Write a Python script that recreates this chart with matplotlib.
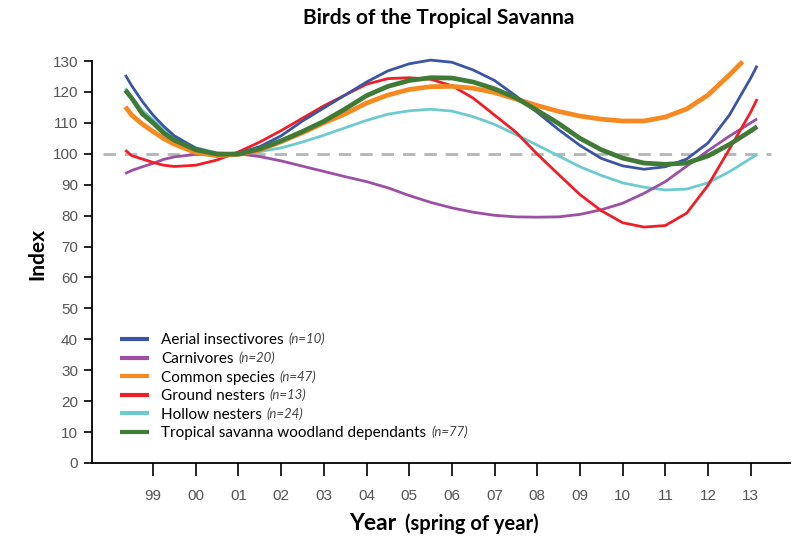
import matplotlib
matplotlib.use("Agg")
import matplotlib.pyplot as plt
from matplotlib import font_manager

# years since 1999 ("99" tick = 0)
t = [-0.65, -0.5, -0.25, 0, 0.25, 0.5, 1, 1.5, 2, 2.5, 3, 3.5, 4, 4.5, 5, 5.5, 6, 6.5,
     7, 7.5, 8, 8.5, 9, 9.5, 10, 10.5, 11, 11.5, 12, 12.5, 13, 13.5, 14, 14.15]
t_orange = t[:32] + [13.81]

aerial = [125.5, 122.0, 116.9, 112.5, 108.9, 105.8, 101.8, 100.0, 100.2, 102.3, 105.8,
          110.6, 114.8, 119.0, 123.2, 126.8, 129.1, 130.3, 129.6, 127.1, 123.7, 118.7,
          113.4, 107.8, 102.7, 98.5, 96.1, 95.0, 95.8, 98.3, 103.5, 112.5, 124.5, 128.5]
carnivores = [93.6, 94.6, 95.8, 96.9, 98.2, 99.0, 99.8, 100.1, 100.0, 99.1, 97.7, 96.0,
              94.3, 92.6, 91.0, 89.0, 86.5, 84.3, 82.5, 81.1, 80.1, 79.6, 79.5, 79.6,
              80.4, 81.9, 84.0, 87.2, 91.0, 96.0, 101.0, 105.7, 110.0, 111.3]
common = [115.2, 112.5, 109.6, 107.2, 104.9, 103.1, 100.4, 99.4, 99.8, 101.2, 103.9,
          106.8, 110.0, 112.9, 116.4, 119.0, 120.8, 121.7, 121.8, 121.2, 119.8, 117.7,
          115.6, 113.7, 112.2, 111.2, 110.6, 110.6, 111.9, 114.5, 119.0, 125.5, 129.8]
ground = [101.2, 99.4, 98.3, 97.2, 96.3, 95.9, 96.3, 98.0, 100.6, 103.8, 107.5, 111.5,
          115.5, 119.0, 122.5, 124.3, 124.6, 124.1, 122.0, 118.0, 112.5, 107.0, 99.9,
          93.3, 86.8, 81.6, 77.7, 76.3, 76.8, 80.8, 89.8, 101.5, 113.5, 117.7]
hollow = [121.2, 118.2, 114.0, 111.0, 107.8, 105.3, 102.0, 100.3, 99.9, 100.7, 101.9,
          103.8, 106.0, 108.4, 110.8, 112.8, 113.9, 114.4, 113.8, 112.0, 109.5, 106.2,
          102.8, 99.3, 95.8, 93.0, 90.6, 89.2, 88.3, 88.6, 90.6, 94.2, 98.5, 99.8]
woodland = [120.6, 118.0, 112.9, 110.0, 106.7, 104.4, 101.3, 99.9, 99.9, 101.6, 104.2,
            107.2, 110.5, 114.5, 118.8, 121.8, 123.7, 124.6, 124.5, 123.2, 121.0, 118.1,
            114.0, 109.8, 105.0, 101.3, 98.6, 97.0, 96.6, 97.0, 99.3, 103.0, 107.4, 108.8]

names = ["Aerial insectivores", "Carnivores", "Common species", "Ground nesters",
         "Hollow nesters", "Tropical savanna woodland dependants"]
counts = ["(n=10)", "(n=20)", "(n=47)", "(n=13)", "(n=24)", "(n=77)"]
tick_labels = ["99", "00", "01", "02", "03", "04", "05", "06", "07", "08", "09",
               "10", "11", "12", "13"]

available = {f.name for f in font_manager.fontManager.ttflist}
tick_font = "Liberation Sans Narrow" if "Liberation Sans Narrow" in available else "Liberation Sans"
text_font = "Lato"

fig = plt.figure(figsize=(8, 5.4), dpi=100)
ax = fig.add_axes([0.115, 0.1426, 0.8725, 0.7444])

ax.hlines(100, -1.17, 14.47, colors="#b5b5b5", linestyles=(0, (4.5, 3.2)), lw=2.0)

series = [
    (t, hollow, "#6ccbd0", 2.0, 4),
    (t, carnivores, "#9b50a4", 2.0, 1),
    (t, ground, "#ee1f26", 2.0, 3),
    (t_orange, common, "#f6891f", 3.4, 2),
    (t, aerial, "#3b55a5", 2.0, 0),
    (t, woodland, "#3f7a36", 3.4, 5),
]
handles = [None] * 6
for xs, ys, col, lw, idx in series:
    ln, = ax.plot(xs, ys, color=col, lw=lw, solid_capstyle="butt",
                  solid_joinstyle="round", clip_on=False)
    handles[idx] = ln

ax.set_xlim(-1.43, 14.92)
ax.set_ylim(0, 130)
ax.set_yticks(range(0, 131, 10))
ax.set_xticks(range(15))
ax.set_xticklabels(tick_labels)
for s in ["top", "right"]:
    ax.spines[s].set_visible(False)
for s in ["left", "bottom"]:
    ax.spines[s].set_linewidth(1.3)
ax.tick_params(axis="y", length=6, width=1.2, pad=4, labelsize=11, labelcolor="#555555")
ax.tick_params(axis="x", length=9, width=1.2, pad=10, labelsize=11, labelcolor="#555555")
for lab in ax.get_xticklabels() + ax.get_yticklabels():
    lab.set_family(tick_font)

leg = ax.legend(handles, names, loc="upper left", bbox_to_anchor=(0.032, 0.3375),
                frameon=False, handlelength=1.9, handletextpad=0.75, labelspacing=0.3,
                borderaxespad=0, prop={"family": text_font, "size": 11})
for lh in leg.get_lines():
    lh.set_linewidth(3.0)

fig.text(0.548, 0.966, "Birds of the Tropical Savanna", ha="center", va="center",
         family=text_font, weight="bold", fontsize=15)
fig.text(0.047, 0.53, "Index", rotation=90, ha="center", va="center",
         family=text_font, weight="bold", fontsize=15)
fig.text(0.436, 0.018, "Year", ha="left", va="baseline",
         family=text_font, weight="bold", fontsize=16.5)
fig.text(0.506, 0.018, "(spring of year)", ha="left", va="baseline",
         family=text_font, weight="bold", fontsize=14.5)

fig.canvas.draw()
renderer = fig.canvas.get_renderer()
inv = fig.transFigure.inverted()
for txt, c in zip(leg.get_texts(), counts):
    bb = txt.get_window_extent(renderer)
    x0, y0 = inv.transform((bb.x1 + 5, bb.y0 + 2))
    fig.text(x0, y0, c, ha="left", va="bottom", family=text_font, style="italic",
             fontsize=9.5, color="#444444")

fig.savefig("out.png", dpi=100)
